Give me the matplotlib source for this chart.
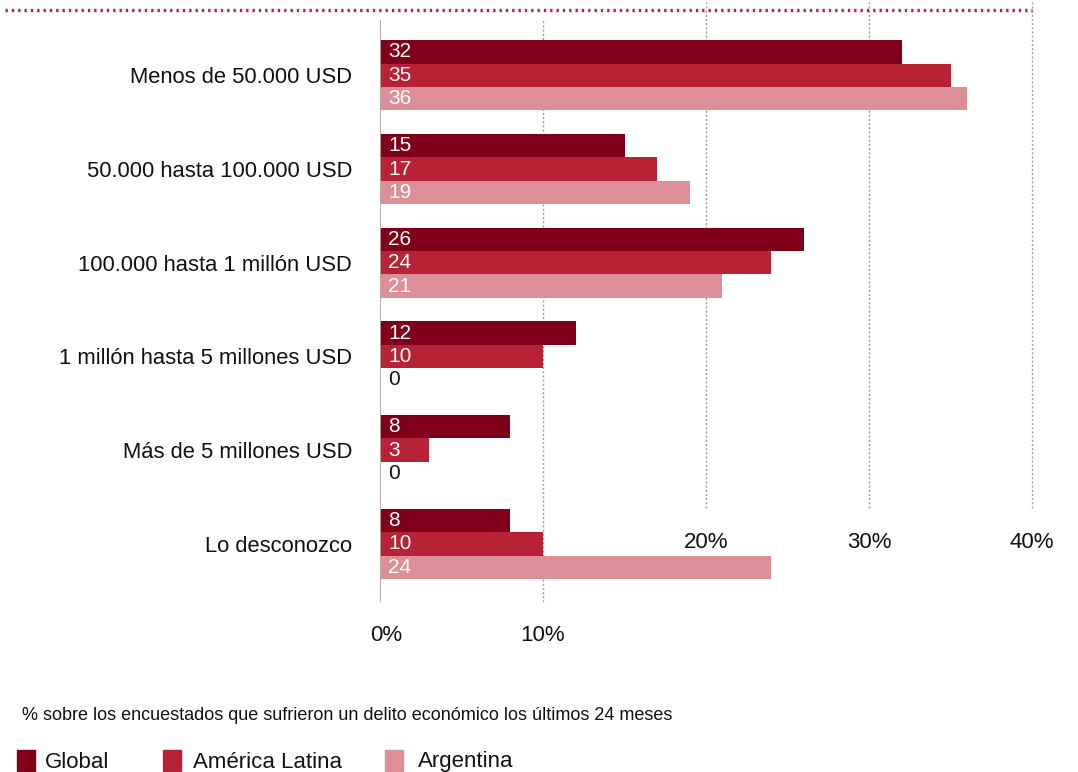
import matplotlib.pyplot as plt
import numpy as np
from matplotlib.patches import Rectangle
from matplotlib.lines import Line2D

plt.rcParams['font.family'] = ['Liberation Sans', 'DejaVu Sans']

categories = ['Menos de 50.000 USD', '50.000 hasta 100.000 USD', '100.000 hasta 1 millón USD',
              '1 millón hasta 5 millones USD', 'Más de 5 millones USD', 'Lo desconozco']
series_names = ['Global', 'América Latina', 'Argentina']
global_vals = [32, 15, 26, 12, 8, 8]
latam_vals = [35, 17, 24, 10, 3, 10]
argentina_vals = [36, 19, 21, 0, 0, 24]
tick_values = [0, 10, 20, 30, 40]
tick_labels = ['0%', '10%', '20%', '30%', '40%']
note = '% sobre los encuestados que sufrieron un delito económico los últimos 24 meses'

colors = ['#80001a', '#b82236', '#dc8f96']
grid_color = '#a89a98'

W, H = 1078, 772
fig = plt.figure(figsize=(W / 100, H / 100), dpi=100)
# axes box in pixels: x 380..1032, y 20..602
ax = fig.add_axes([380 / W, 1 - 602 / H, (1032 - 380) / W, (602 - 20) / H])

y = np.arange(len(categories))
h = 0.25
for k, (vals, c) in enumerate(zip([global_vals, latam_vals, argentina_vals], colors)):
    pos = y - h + k * h
    ax.barh(pos, vals, height=h, color=c, edgecolor='none', zorder=2)
    for p, v in zip(pos, vals):
        ax.text(0.5, p, str(v), va='center', ha='left', fontsize=15,
                color='white' if v > 0 else '#111111', zorder=3)

ax.set_xlim(0, 40)
ax.set_ylim(5.62, -0.59)
ax.set_yticks(y)
ax.set_yticklabels(categories, fontsize=15.8, color='#111111')
ax.tick_params(axis='y', length=0, pad=20)
ax.set_xticks([])
for s in ax.spines.values():
    s.set_visible(False)

# zero baseline and the 10% gridline run the whole plot height
ax.axvline(0, color='#b5a8a4', lw=1.3, zorder=4)
ax.axvline(10, color=grid_color, lw=1, ls=(0, (1.5, 1.5)), zorder=1)
# 20-40% gridlines start at the top edge and stop above their labels
trans = ax.get_xaxis_transform()
for t in tick_values[2:]:
    ax.plot([t, t], [0.1615, 1.035], transform=trans, color=grid_color, lw=1,
            ls=(0, (1.5, 1.5)), clip_on=False, zorder=1)

for t, lab in zip(tick_values, tick_labels):
    ty = -0.058 if t < 20 else 0.103
    tx = t + 0.35 if t == 0 else t
    ax.text(tx, ty, lab, transform=trans, ha='center', va='center', fontsize=16, color='#111111')

# dotted rule across the top
fig.add_artist(Line2D([5 / W, 1032 / W], [1 - 10 / H, 1 - 10 / H], color='#b82236',
                      lw=2.4, ls=(0, (0.7, 1.2))))

fig.text(22 / W, 1 - 715 / H, note, fontsize=13, va='center', ha='left', color='#111111')

legend_x = [17, 163, 385]
legend_text_x = [45, 193, 418]
for x0, tx, name, c in zip(legend_x, legend_text_x, series_names, colors):
    fig.add_artist(Rectangle((x0 / W, 1 - 771 / H), 18 / W, 21 / H, color=c,
                             transform=fig.transFigure))
    fig.text(tx / W, 1 - 762 / H, name, fontsize=16, va='center', ha='left', color='#111111')

fig.savefig('out.png', dpi=100)
